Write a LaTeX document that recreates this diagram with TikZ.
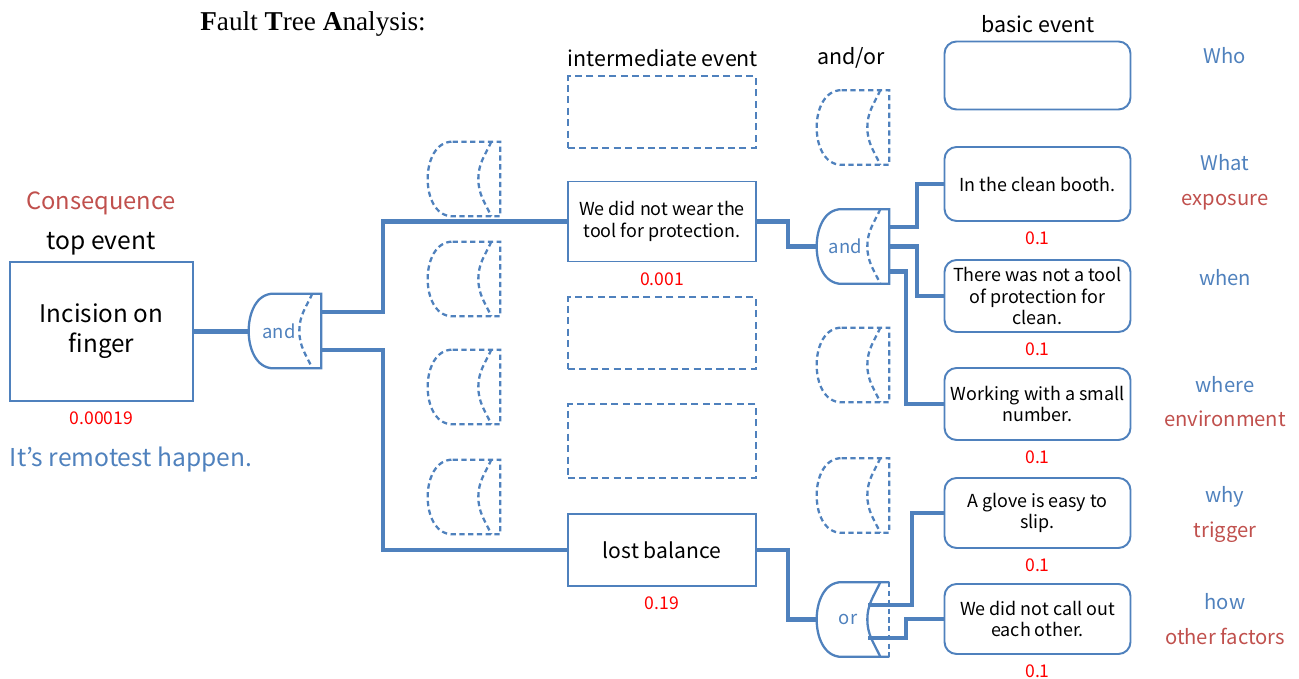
\documentclass[tikz,border=0pt]{standalone}
\usepackage{fontspec}
\setmainfont{Noto Sans CJK JP}
\newfontfamily\titlefont{Liberation Serif}
\usepackage{tikz}
\usetikzlibrary{positioning,calc}

\definecolor{ftblue}{RGB}{79,129,189}
\definecolor{ftred}{RGB}{192,80,77}

\begin{document}
\begin{tikzpicture}[x=0.02cm, y=0.02cm,
  box/.style={draw=ftblue, line width=1.1pt, fill=white, align=center, inner sep=2pt, font=\fontsize{10.2}{12.4}\selectfont},
  topbox/.style={box, minimum width=3.66cm, minimum height=2.78cm, font=\fontsize{13.8}{17}\selectfont},
  midbox/.style={box, minimum width=3.76cm, minimum height=1.44cm},
  dashbox/.style={midbox, dash pattern=on 4pt off 2.5pt},
  basicbox/.style={box, rounded corners=0.24cm, minimum width=3.72cm, minimum height=1.44cm},
  gatebox/.style={minimum width=1.44cm, minimum height=1.48cm, inner sep=0pt, text=ftblue, font=\fontsize{10.5}{12}\selectfont},
  gateline/.style={draw=ftblue, line width=1.3pt},
  gdash/.style={dash pattern=on 3pt off 2pt},
  gsolid/.style={solid},
  wire/.style={draw=ftblue, line width=2.3pt},
  num/.style={text=red, font=\fontsize{10}{11}\selectfont, inner sep=1pt},
  head/.style={font=\fontsize{12.2}{14}\selectfont},
  hint/.style={text=ftblue, font=\fontsize{11.5}{13}\selectfont, text height=0.75em, text depth=0.25em},
  cue/.style={text=ftred, font=\fontsize{11.5}{13}\selectfont, text height=0.75em, text depth=0.25em},
]

  \useasboundingbox (0,0) rectangle (1299,679);

  \node[anchor=west, inner sep=0pt, font=\titlefont\fontsize{15.5}{17}\selectfont] (title) at (200,655) {\textbf{F}ault \textbf{T}ree \textbf{A}nalysis:};

  % top event
  \node[cue, font=\fontsize{13.5}{15}\selectfont] (conseq) at (101,474) {Consequence};
  \node[head, font=\fontsize{14}{16}\selectfont] (tophead) at (101,435) {top event};
  \node[topbox] (top) at (101.5,347.5) {Incision on\\finger};
  \node[num] (ptop) [below=0.16cm of top] {0.00019};
  \node[hint, font=\fontsize{14}{16}\selectfont] (remote) at (131,217) {It's remotest happen.};

  \node[gatebox] (g1) at (285,348) {and\kern0.24cm};
  \foreach \n/\y in {dg1/500, dg2/400, dg3/292, dg4/182}
    \node[gatebox] (\n) at (464,\y) {};

  % intermediate events
  \node[head] (midhead) at (663,621) {intermediate event};
  \node[dashbox] (db1) at (662,567) {};
  \node[midbox, minimum height=1.6cm] (i1) at (662,457.5) {We did not wear the\\tool for protection.};
  \node[num] (pi1) [below=0.16cm of i1] {0.001};
  \node[dashbox] (db2) at (662,346) {};
  \node[dashbox, minimum height=1.48cm] (db3) at (662,238) {};
  \node[midbox, font=\fontsize{12}{14}\selectfont] (lb) at (662,129) {lost balance};
  \node[num] (plb) [below=0.16cm of lb] {0.19};

  % and/or gates
  \node[head] (gatehead) at (851,621) {and/or};
  \foreach \n/\y in {dg5/551.5, dg6/314, dg7/183.5}
    \node[gatebox] (\n) at (853,\y) {};
  \node[gatebox] (ag) at (853,432.5) {and\kern0.3cm};
  \node[gatebox] (og) at (853,59.5) {or\kern0.2cm};

  % basic events
  \node[head] (basichead) at (1038,655) {basic event};
  \node[basicbox, minimum height=1.36cm] (b1) at (1037.5,603.5) {};
  \node[basicbox, minimum height=1.48cm] (b2) at (1037.5,495) {In the clean booth.};
  \node[basicbox] (b3) at (1037.5,383) {There was not a tool\\of protection for\\clean.};
  \node[basicbox] (b4) at (1037.5,275) {Working with a small\\number.};
  \node[basicbox, minimum height=1.4cm] (b5) at (1037.5,166) {A glove is easy to\\slip.};
  \node[basicbox, minimum height=1.4cm] (b6) at (1037.5,60) {We did not call out\\each other.};
  \foreach \b in {b2,b3,b4,b5,b6}
    \node[num] (p\b) [below=0.16cm of \b] {0.1};

  % 5W1H
  \node[hint] (who) at (1225,620) {Who};
  \node[hint] (what) at (1225,513) {What};
  \node[cue] (expo) at (1225,478) {exposure};
  \node[hint] (when) at (1225,398) {when};
  \node[hint] (where) at (1225,291) {where};
  \node[cue] (env) at (1225,257) {environment};
  \node[hint] (why) at (1225,181) {why};
  \node[cue] (trig) at (1225,146) {trigger};
  \node[hint] (how) at (1225,74) {how};
  \node[cue] (other) at (1225,39) {other factors};

  % gate outlines
  \foreach \g/\o/\i in {dg1/gdash/gdash, dg2/gdash/gdash, dg3/gdash/gdash, dg4/gdash/gdash,
                        dg5/gdash/gdash, dg6/gdash/gdash, dg7/gdash/gdash, g1/gsolid/gdash, ag/gsolid/gdash} {
    \draw[gateline, \o] ([xshift=0.5cm]\g.north west) -- (\g.north east) -- (\g.south east)
      -- ([xshift=0.5cm]\g.south west) to[out=180,in=-90] (\g.west)
      to[out=90,in=180] ([xshift=0.5cm]\g.north west) -- cycle;
    \draw[gateline, \i] ([xshift=-0.18cm]\g.north east) to[out=-115,in=90] ([xshift=-0.44cm]\g.east)
      to[out=-90,in=115] ([xshift=-0.18cm]\g.south east);
  }
  \draw[gateline] (og.north east) -- ([xshift=0.5cm]og.north west) to[out=180,in=90] (og.west)
    to[out=-90,in=180] ([xshift=0.5cm]og.south west) -- (og.south east);
  \draw[gateline, gdash] (og.north east) -- (og.south east);
  \draw[gateline] ([xshift=-0.18cm]og.north east) to[out=-115,in=90] ([xshift=-0.44cm]og.east)
    to[out=-90,in=115] ([xshift=-0.18cm]og.south east);

  % connectors
  \draw[wire] (top.east) -- (top.east -| g1.west);
  \draw[wire] ([yshift=0.38cm]g1.east) -- ++(62,0) |- (i1.west);
  \draw[wire] ([yshift=-0.38cm]g1.east) -- ++(62,0) |- (lb.west);
  \draw[wire] (i1.east) -- ++(31,0) |- (ag.west);
  \draw[wire] (lb.east) -- ++(31,0) |- (og.west);
  \draw[wire] ([yshift=0.39cm]ag.east) -- ++(28,0) |- (b2.west);
  \draw[wire] (ag.east) -- ++(28,0) |- (b3.west);
  \draw[wire] ([yshift=-0.5cm]ag.east) -- ++(17,0) |- (b4.west);
  \draw[wire] ([xshift=-0.42cm,yshift=0.29cm]og.east) -- ++(44,0) |- (b5.west);
  \draw[wire] ([xshift=-0.42cm,yshift=-0.37cm]og.east) -- ++(38,0) |- (b6.west);

\end{tikzpicture}
\end{document}
